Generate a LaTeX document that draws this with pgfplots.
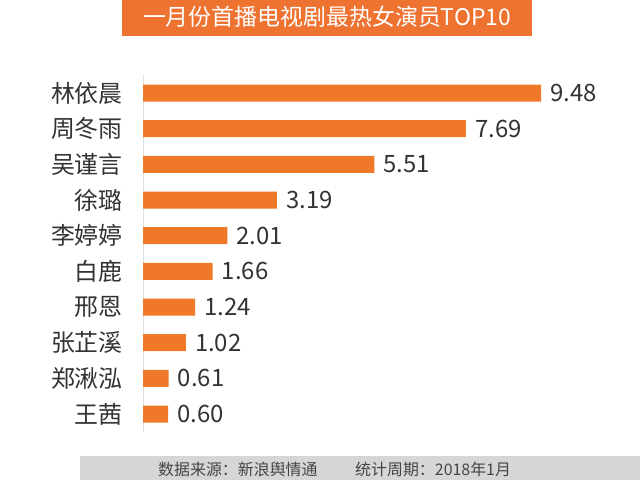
\documentclass[border=0pt]{standalone}
\usepackage{pgfplots}
\pgfplotsset{compat=1.18}
\usepackage{fontspec}
\setmainfont{Noto Sans CJK SC}
\definecolor{barorange}{RGB}{239,121,40}
\definecolor{titleorange}{RGB}{238,114,48}
\definecolor{footgray}{RGB}{214,214,214}
\definecolor{foottxt}{RGB}{70,70,70}
\definecolor{txt}{RGB}{51,51,51}
\begin{document}
\begin{tikzpicture}
\begin{scope}[x=1bp,y=1bp]
\path[use as bounding box] (0,0) rectangle (640,480);
\fill[white] (0,0) rectangle (640,480);
\fill[titleorange] (122,444) rectangle (532,480);
\node[text=white, font=\fontsize{23}{26}\selectfont] at (327,463) {一月份首播电视剧最热女演员TOP10};
\fill[footgray] (80,0) rectangle (640,24);
\node[anchor=west, text=foottxt, font=\fontsize{16}{18}\selectfont, inner sep=0pt] at (158,11) {数据来源：新浪舆情通};
\node[anchor=west, text=foottxt, font=\fontsize{16}{18}\selectfont, inner sep=0pt] at (355,11) {统计周期：2018年1月};
\end{scope}
\begin{axis}[
  at={(143bp,48.1bp)}, anchor=south west,
  scale only axis, width=420bp, height=356.7bp,
  xmin=0, xmax=10, ymin=-0.5, ymax=9.5,
  y dir=reverse,
  xbar, bar width=17bp,
  clip=false,
  hide x axis,
  axis y line*=left,
  y axis line style={draw=black!12, line width=0.8pt},
  ytick={0,...,9},
  yticklabels={林依晨,周冬雨,吴谨言,徐璐,李婷婷,白鹿,邢恩,张芷溪,郑湫泓,王茜},
  major tick length=0pt,
  yticklabel style={text=txt, font=\fontsize{24}{26}\selectfont, anchor=east, inner sep=0pt, xshift=-20bp},
  nodes near coords,
  every node near coord/.append style={text=txt, font=\fontsize{24}{26}\selectfont, anchor=west, inner sep=0pt, xshift=9bp,
    /pgf/number format/.cd, fixed, fixed zerofill, precision=2, assume math mode=true},
]
\addplot[draw=none, fill=barorange] coordinates {
(9.48,0) (7.69,1) (5.51,2) (3.19,3) (2.01,4) (1.66,5) (1.24,6) (1.02,7) (0.61,8) (0.60,9)
};
\end{axis}
\end{tikzpicture}
\end{document}
